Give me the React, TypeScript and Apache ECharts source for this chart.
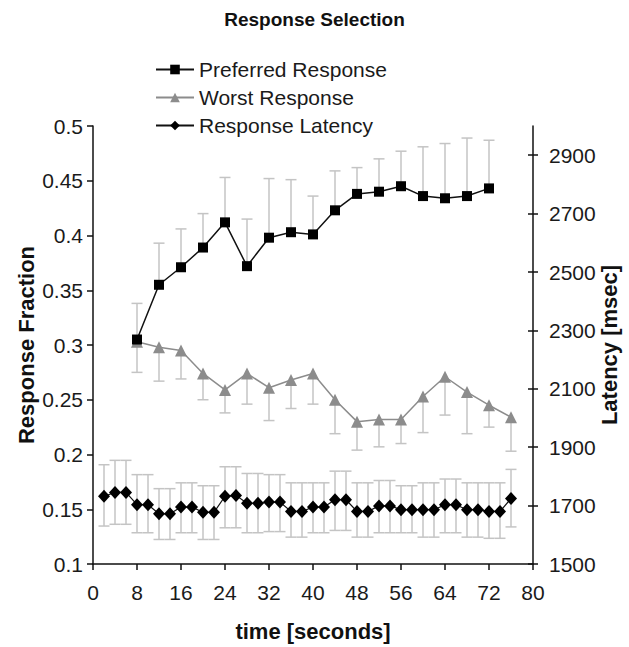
import React, { useEffect, useRef } from "react";
import * as echarts from "echarts";

const FONT = "Liberation Sans, Arial, Helvetica, sans-serif";

// time axis (seconds)
const xTickStep = 8;

// Preferred Response (left axis, fraction)
const prefTimes = [8, 12, 16, 20, 24, 28, 32, 36, 40, 44, 48, 52, 56, 60, 64, 68, 72];
const prefValues = [0.305, 0.355, 0.371, 0.389, 0.412, 0.372, 0.398, 0.403, 0.401, 0.423, 0.438, 0.44, 0.445, 0.436, 0.434, 0.436, 0.443];
const prefUpper = [0.338, 0.393, 0.406, 0.42, 0.453, 0.415, 0.452, 0.451, 0.436, 0.459, 0.462, 0.47, 0.477, 0.481, 0.484, 0.489, 0.487];

// Worst Response (left axis, fraction)
const worstTimes = [8, 12, 16, 20, 24, 28, 32, 36, 40, 44, 48, 52, 56, 60, 64, 68, 72, 76];
const worstValues = [0.303, 0.298, 0.295, 0.274, 0.259, 0.274, 0.261, 0.268, 0.274, 0.25, 0.23, 0.232, 0.232, 0.253, 0.271, 0.257, 0.245, 0.234];
const worstLower = [0.275, 0.267, 0.269, 0.25, 0.238, 0.246, 0.231, 0.242, 0.246, 0.219, 0.204, 0.207, 0.21, 0.22, 0.236, 0.219, 0.225, 0.203];

// Response Latency (right axis, msec)
const latTimes = [2, 4, 6, 8, 10, 12, 14, 16, 18, 20, 22, 24, 26, 28, 30, 32, 34, 36, 38, 40, 42, 44, 46, 48, 50, 52, 54, 56, 58, 60, 62, 64, 66, 68, 70, 72, 74, 76];
const latValues = [1732, 1745, 1745, 1703, 1703, 1672, 1672, 1695, 1695, 1677, 1677, 1732, 1735, 1708, 1708, 1712, 1712, 1680, 1680, 1695, 1695, 1720, 1720, 1680, 1680, 1699, 1699, 1686, 1686, 1686, 1686, 1703, 1703, 1686, 1686, 1680, 1680, 1724];
const latUpper = [1840, 1855, 1855, 1806, 1806, 1758, 1758, 1778, 1778, 1768, 1768, 1833, 1833, 1810, 1810, 1806, 1806, 1778, 1778, 1778, 1778, 1818, 1818, 1778, 1778, 1786, 1786, 1768, 1768, 1778, 1778, 1791, 1791, 1778, 1778, 1778, 1778, 1824];
const latLower = [1630, 1636, 1636, 1607, 1607, 1584, 1584, 1607, 1607, 1584, 1584, 1624, 1624, 1607, 1607, 1611, 1611, 1592, 1592, 1607, 1607, 1615, 1615, 1592, 1592, 1607, 1607, 1607, 1607, 1592, 1592, 1607, 1607, 1592, 1592, 1588, 1588, 1627];

const rightTickValues = [1500, 1700, 1900, 2100, 2300, 2500, 2700, 2900];

const ERR_COLOR = "#c4c4c4";

function errorBars(name: string, data: number[][], yAxisIndex: number, capLow: boolean, capHigh: boolean, z: number) {
  return {
    type: "custom",
    name,
    yAxisIndex,
    silent: true,
    z,
    data,
    encode: { x: 0, y: [1, 2] },
    renderItem: (params: any, api: any) => {
      const x = api.value(0);
      const lo = api.value(1);
      const hi = api.value(2);
      const pLo = api.coord([x, lo]);
      const pHi = api.coord([x, hi]);
      const hw = 5.5;
      const style = { stroke: ERR_COLOR, lineWidth: 1.5, fill: null };
      const children: any[] = [
        { type: "line", shape: { x1: pLo[0], y1: pLo[1], x2: pHi[0], y2: pHi[1] }, style },
      ];
      if (capHigh) children.push({ type: "line", shape: { x1: pHi[0] - hw, y1: pHi[1], x2: pHi[0] + hw, y2: pHi[1] }, style });
      if (capLow) children.push({ type: "line", shape: { x1: pLo[0] - hw, y1: pLo[1], x2: pLo[0] + hw, y2: pLo[1] }, style });
      return { type: "group", children };
    },
  };
}

export default function App() {
  const ref = useRef<HTMLDivElement>(null);
  useEffect(() => {
    if (!ref.current) return;
    const chart = echarts.init(ref.current, null, { renderer: "svg" });
    const axisLine = { show: true, lineStyle: { color: "#111", width: 1.5 } };
    const labelStyle = { fontSize: 21, color: "#1a1a1a", fontFamily: FONT };
    const nameStyle = { fontSize: 22, fontWeight: "bold", color: "#111", fontFamily: FONT };
    chart.setOption({
      animation: false,
      backgroundColor: "#fff",
      title: {
        text: "Response Selection",
        left: "center",
        top: 5,
        textStyle: { fontSize: 19, fontWeight: "bold", color: "#111", fontFamily: FONT },
      },
      legend: {
        orient: "vertical",
        left: 150,
        top: 54,
        itemWidth: 38,
        itemHeight: 12,
        itemGap: 7,
        data: ["Preferred Response", "Worst Response", "Response Latency"],
        textStyle: { fontSize: 21, color: "#1a1a1a", fontFamily: FONT, lineHeight: 21 },
      },
      grid: { left: 93, right: 96, top: 126, bottom: 83, containLabel: false, outerBoundsMode: "none" },
      xAxis: {
        type: "value",
        min: 0,
        max: 80,
        interval: xTickStep,
        name: "time [seconds]",
        nameLocation: "middle",
        nameGap: 56,
        nameMoveOverlap: false,
        nameTextStyle: nameStyle,
        axisLine,
        axisTick: { show: true, length: 6, lineStyle: { color: "#111", width: 1.5 } },
        axisLabel: { ...labelStyle, margin: 18 },
        splitLine: { show: false },
      },
      yAxis: [
        {
          type: "value",
          position: "left",
          min: 0.1,
          max: 0.5,
          interval: 0.05,
          name: "Response Fraction",
          nameLocation: "middle",
          nameRotate: 90,
          nameGap: 56,
          nameMoveOverlap: false,
          nameTextStyle: nameStyle,
          axisLine,
          axisTick: { show: true, length: 6, lineStyle: { color: "#111", width: 1.5 } },
          axisLabel: { ...labelStyle, margin: 10 },
          splitLine: { show: false },
        },
        {
          type: "value",
          position: "right",
          min: 1500,
          max: 3000,
          name: "Latency [msec]",
          nameLocation: "middle",
          nameRotate: 90,
          nameGap: 65,
          nameMoveOverlap: false,
          nameTextStyle: nameStyle,
          axisLine,
          axisTick: { show: true, length: 5, customValues: rightTickValues, lineStyle: { color: "#111", width: 1.5 } },
          axisLabel: { ...labelStyle, margin: 16, customValues: rightTickValues, formatter: (v: number) => String(v) },
          splitLine: { show: false },
        },
        {
          type: "value",
          position: "right",
          min: 1500,
          max: 3000,
          axisLine: { show: false },
          axisTick: { show: true, inside: true, length: 5, customValues: rightTickValues, lineStyle: { color: "#111", width: 1.5 } },
          axisLabel: { show: false },
          splitLine: { show: false },
        },
      ],
      series: [
        errorBars("prefErr", prefTimes.map((t, i) => [t, prefValues[i], prefUpper[i]]), 0, false, true, 1),
        errorBars("worstErr", worstTimes.map((t, i) => [t, worstLower[i], worstValues[i]]), 0, true, false, 1),
        errorBars("latErr", latTimes.map((t, i) => [t, latLower[i], latUpper[i]]), 1, true, true, 1),
        {
          type: "line",
          name: "Worst Response",
          yAxisIndex: 0,
          z: 3,
          data: worstTimes.map((t, i) => [t, worstValues[i]]),
          symbol: "triangle",
          symbolSize: 12,
          lineStyle: { color: "#8c8c8c", width: 1.5 },
          itemStyle: { color: "#8c8c8c" },
        },
        {
          type: "line",
          name: "Preferred Response",
          yAxisIndex: 0,
          z: 4,
          data: prefTimes.map((t, i) => [t, prefValues[i]]),
          symbol: "rect",
          symbolSize: 10,
          lineStyle: { color: "#111", width: 1.5 },
          itemStyle: { color: "#000" },
        },
        {
          type: "line",
          name: "Response Latency",
          yAxisIndex: 1,
          z: 4,
          data: latTimes.map((t, i) => [t, latValues[i]]),
          symbol: "diamond",
          symbolSize: [12, 13],
          lineStyle: { color: "#111", width: 1.2 },
          itemStyle: { color: "#000" },
        },
      ],
    });
    return () => chart.dispose();
  }, []);
  return <div ref={ref} style={{ position: "fixed", left: 0, top: 0, width: 629, height: 647 }} />;
}
